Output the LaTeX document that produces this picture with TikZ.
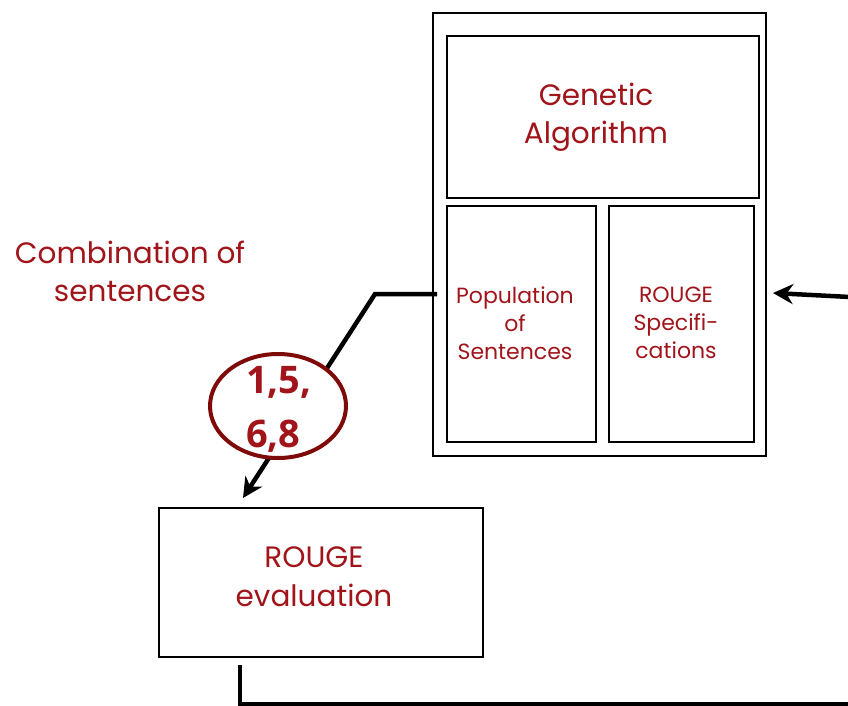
\documentclass[tikz,border=0pt]{standalone}
\usepackage{fontspec}
\setmainfont{Poppins}
\newfontfamily\numfont{Open Sans}
\usetikzlibrary{arrows.meta,shapes.geometric}
\definecolor{txtred}{HTML}{A0141A}
\definecolor{ellred}{HTML}{7F0A0A}
\begin{document}
\begin{tikzpicture}[x=1pt,y=-1pt,
  box/.style={draw=black,line width=1.8pt},
  lbl/.style={text=txtred,align=center,inner sep=0pt},
  conn/.style={draw=black,line width=4.5pt},
  tip/.style={-{Stealth[length=20pt,width=20pt]}}]
\useasboundingbox (0,0) rectangle (848,706);
% boxes
\draw[box] (433,13) rectangle (766,456);
\node[box,minimum width=312pt,minimum height=162pt,inner sep=0pt] (ga) at (603,117) {};
\node[lbl,font=\fontsize{29.5}{38}\selectfont] at (596,117) {Genetic\\Algorithm};
\node[box,minimum width=149pt,minimum height=236pt,inner sep=0pt] (pop) at (521.5,324) {};
\node[lbl,font=\fontsize{22}{28}\selectfont] at (515,323) {Population\\of\\Sentences};
\node[box,minimum width=145pt,minimum height=236pt,inner sep=0pt] (spec) at (681.5,324) {};
\node[lbl,font=\fontsize{22}{28}\selectfont] at (676,323) {ROUGE\\Specifi-\\cations};
\node[box,minimum width=324pt,minimum height=149pt,inner sep=0pt] (eval) at (321,582.5) {};
\node[lbl,font=\fontsize{29.5}{39}\selectfont] at (314,576.5) {ROUGE\\evaluation};
\node[lbl,font=\fontsize{29.5}{38}\selectfont] (comb) at (130,271) {Combination of\\sentences};
% connector from population to evaluation
\coordinate (p1) at (437,294);
\coordinate (bend) at (375,294);
\coordinate (tipe) at (243,498);
\draw[conn,tip,line join=miter] (p1) -- (bend) -- (tipe);
% ellipse label
\node[draw=ellred,line width=4pt,fill=white,ellipse,minimum width=136pt,minimum height=104pt,inner sep=0pt] (sel) at (278,406) {};
\node[text=txtred,align=left,anchor=west,inner sep=0pt,font=\numfont\bfseries\fontsize{38}{54}\selectfont] at (246,409) {1,5,\\6,8};
% arrow from right
\coordinate (rin) at (850,297);
\draw[conn,tip] (rin) -- (773,293);
% bottom line
\coordinate (b1) at (240,665);
\coordinate (b2) at (240,704);
\coordinate (b3) at (850,704);
\draw[conn,line join=miter] (b1) -- (b2) -- (b3);
\end{tikzpicture}
\end{document}
